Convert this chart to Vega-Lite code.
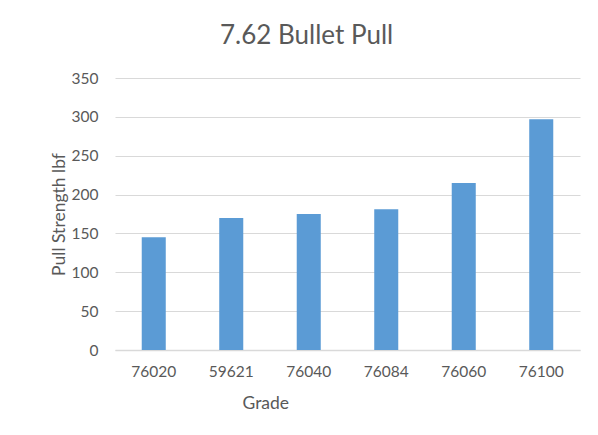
{
  "$schema": "https://vega.github.io/schema/vega-lite/v6.json",
  "width": 465,
  "height": 272,
  "autosize": "none",
  "padding": {"left": 115, "top": 78, "right": 18, "bottom": 85},
  "background": "white",
  "title": {
    "text": "7.62 Bullet Pull",
    "font": "Lato",
    "fontSize": 26,
    "fontWeight": "normal",
    "color": "#595959",
    "anchor": "start",
    "frame": "group",
    "dx": 105,
    "offset": 22
  },
  "data": {
    "values": [
      {"grade": "76020", "pull": 145},
      {"grade": "59621", "pull": 170},
      {"grade": "76040", "pull": 175},
      {"grade": "76084", "pull": 181},
      {"grade": "76060", "pull": 215},
      {"grade": "76100", "pull": 297}
    ]
  },
  "mark": {"type": "bar", "color": "#5B9BD5"},
  "encoding": {
    "x": {
      "field": "grade",
      "type": "nominal",
      "sort": null,
      "scale": {"paddingInner": 0.69, "paddingOuter": 0.345},
      "axis": {
        "title": "Grade",
        "labelAngle": 0,
        "ticks": false,
        "labelPadding": 14,
        "titlePadding": 15,
        "titleAnchor": "start",
        "titleX": 127,
        "domainColor": "#d9d9d9",
        "domainWidth": 1.5
      }
    },
    "y": {
      "field": "pull",
      "type": "quantitative",
      "scale": {"domain": [0, 350]},
      "axis": {
        "title": "Pull Strength lbf",
        "values": [0, 50, 100, 150, 200, 250, 300, 350],
        "ticks": false,
        "domain": false,
        "labelPadding": 17,
        "titlePadding": 3,
        "gridColor": "#d9d9d9",
        "gridWidth": 1.2
      }
    }
  },
  "config": {
    "view": {"stroke": null},
    "axis": {
      "labelFont": "Lato",
      "labelFontSize": 15.5,
      "labelColor": "#595959",
      "titleFont": "Lato",
      "titleFontSize": 17.5,
      "titleFontWeight": "normal",
      "titleColor": "#595959"
    }
  }
}
